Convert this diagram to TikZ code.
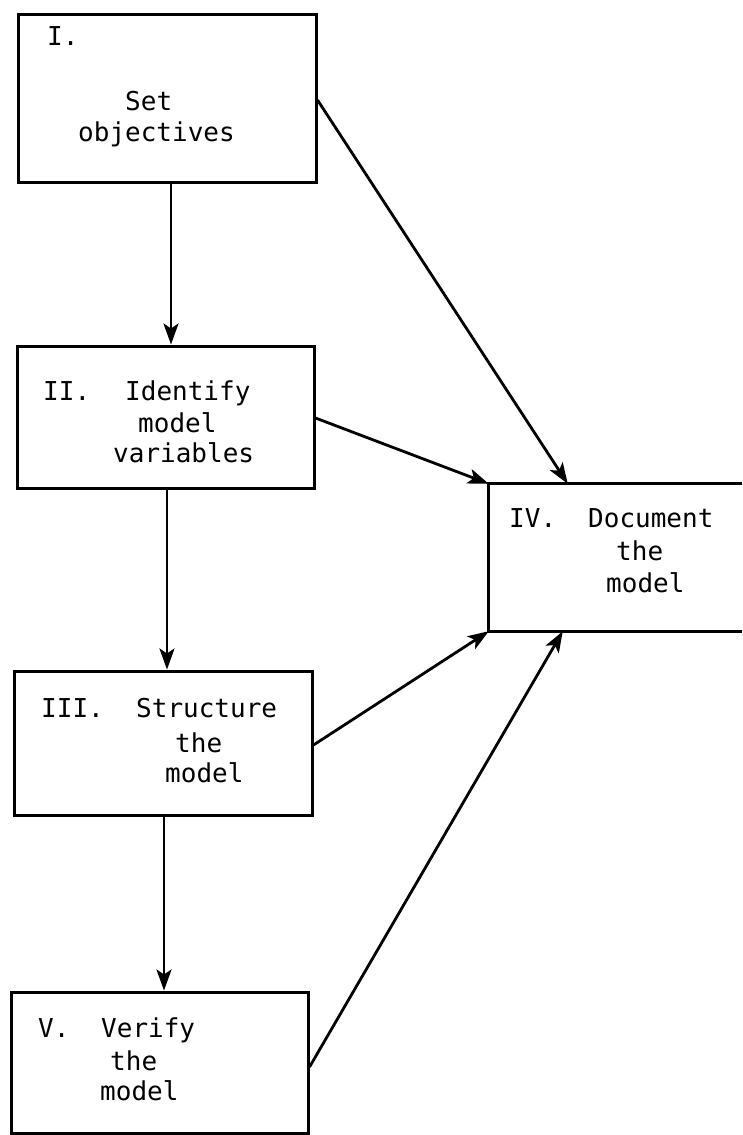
\documentclass[tikz,border=0pt]{standalone}
\usepackage{fontspec}
\setmonofont{DejaVu Sans Mono}
\usetikzlibrary{arrows.meta,calc}
\begin{document}
\begin{tikzpicture}[x=1pt,y=-1pt,
  box/.style={draw, line width=3pt, inner sep=0pt, rectangle},
  openbox/.style={inner sep=0pt, rectangle},
  lbl/.style={anchor=base west, inner sep=0pt, font=\ttfamily\fontsize{26}{31}\selectfont},
  arr/.style={line width=2.8pt, -{Stealth[length=21pt,width=15pt,inset=5pt]}},
  edge/.style={line width=3pt}]
\useasboundingbox (0,0) rectangle (742,1135);
% boxes
\node[box, minimum width=298pt, minimum height=168pt] (b1) at (167,98) {};
\node[box, minimum width=297pt, minimum height=142pt] (b2) at (165.5,417) {};
\node[box, minimum width=298pt, minimum height=144pt] (b3) at (163,743) {};
\node[box, minimum width=297pt, minimum height=141pt] (b5) at (159.5,1062.5) {};
\node[openbox, minimum width=253pt, minimum height=147pt] (b4) at (615.5,557.5) {};
\draw[edge] (b4.north east) -- (b4.north west) -- (b4.south west) -- (b4.south east);
% texts
\node[lbl] (t1a) at (47,45) {I.};
\node[lbl] (t1b) at (125,110) {Set};
\node[lbl] (t1c) at (78,141) {objectives};
\node[lbl] (t2a) at (43,400) {II.};
\node[lbl] (t2b) at (125,400) {Identify};
\node[lbl] (t2c) at (138,432) {model};
\node[lbl] (t2d) at (113,462) {variables};
\node[lbl] (t3a) at (41,717) {III.};
\node[lbl] (t3b) at (136,717) {Structure};
\node[lbl] (t3c) at (175,752) {the};
\node[lbl] (t3d) at (165,782) {model};
\node[lbl] (t4a) at (509,527) {IV.};
\node[lbl] (t4b) at (588,527) {Document};
\node[lbl] (t4c) at (616,560) {the};
\node[lbl] (t4d) at (606,592) {model};
\node[lbl] (t5a) at (38,1037) {V.};
\node[lbl] (t5b) at (101,1037) {Verify};
\node[lbl] (t5c) at (110,1070) {the};
\node[lbl] (t5d) at (100,1100) {model};
% connectors
\draw[arr] ([xshift=4pt]b1.south) -- ([xshift=4pt]b1.south |- b2.north);
\draw[arr] ([xshift=1.5pt]b2.south) -- ([xshift=1.5pt]b2.south |- b3.north);
\draw[arr] ([xshift=1pt]b3.south) -- ([xshift=1pt]b3.south |- b5.north);
\draw[arr] ([yshift=-2pt]b1.east) -- ([xshift=79pt]b4.north west);
\draw[arr] ([yshift=-1pt]b2.east) -- (b4.north west);
\draw[arr] ([yshift=-2pt]b3.east) -- (b4.south west);
\draw[arr] ([yshift=-4.5pt]b5.east) -- ([xshift=74pt]b4.south west);
\end{tikzpicture}
\end{document}
